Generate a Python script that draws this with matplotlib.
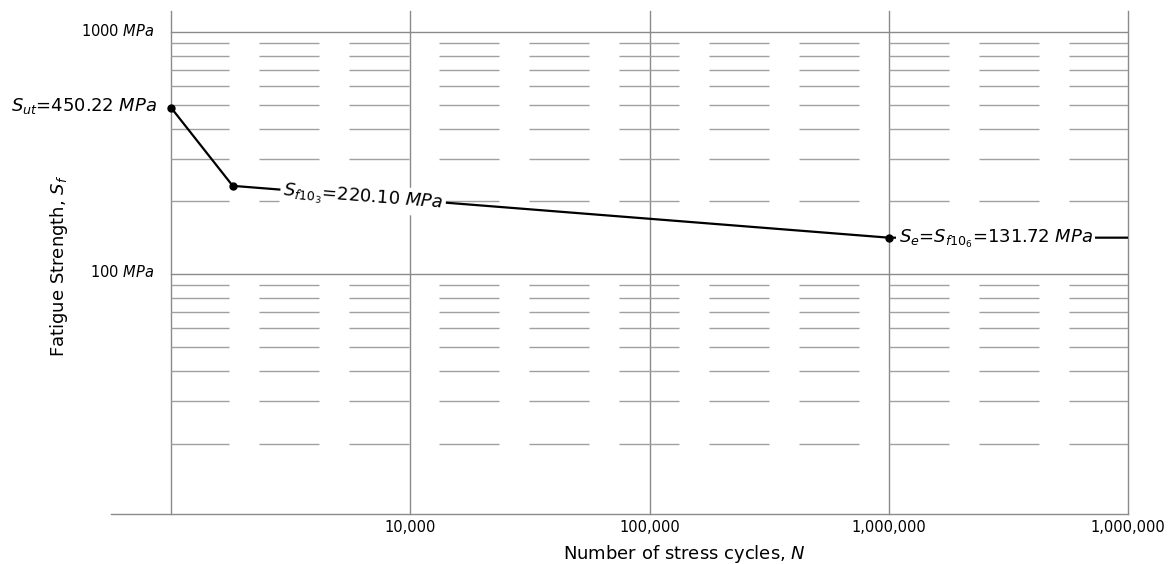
import matplotlib
matplotlib.use('Agg')
import matplotlib.pyplot as plt

plt.rcParams['font.family'] = ['DejaVu Sans']
plt.rcParams['mathtext.fontset'] = 'dejavusans'
plt.rcParams['lines.scale_dashes'] = False

# S-N curve points
cycles = [1e3, 1.81e3, 1e6, 1e7]
strength = [488, 232, 141.7, 141.7]
point_labels = [r'$S_{ut}$=450.22 $\mathit{MPa}$',
                r'$S_{f10_3}$=220.10 $\mathit{MPa}$',
                r'$S_e$=$S_{f10_6}$=131.72 $\mathit{MPa}$']

# grid / ticks
decades_x = [1e3, 1e4, 1e5, 1e6, 1e7]
xtick_vals = [1e4, 1e5, 1e6, 1e7]
xtick_labels = ['10,000', '100,000', '1,000,000', '1,000,000']
decades_y = [100, 1000]
ytick_labels = ['100 $\\mathit{MPa}$', '1000 $\\mathit{MPa}$']
minor_y = [20, 30, 40, 50, 60, 70, 80, 90, 200, 300, 400, 500, 600, 700, 800, 900]

W, H = 1172, 564
fig = plt.figure(figsize=(W / 100, H / 100), dpi=100)
ax = fig.add_axes([111 / W, (H - 514.3) / H, (1128 - 111) / W, (514.3 - 11) / H])
ax.set_xscale('log')
ax.set_yscale('log')
ax.set_xlim(561, 1e7)
ax.set_ylim(10.2, 1224)

for s in ['top', 'right', 'left']:
    ax.spines[s].set_visible(False)
ax.spines['bottom'].set_color('#8a8a8a')
ax.spines['bottom'].set_linewidth(1.0)

# vertical decade lines
for xv in decades_x:
    ax.axvline(xv, color='#8a8a8a', lw=1.0, zorder=1, clip_on=False)
# horizontal decade lines
for yv in decades_y:
    ax.plot([decades_x[0], decades_x[-1]], [yv, yv], color='#8a8a8a', lw=1.0, zorder=1)
# dashed minor lines
for yv in minor_y:
    ax.plot([decades_x[0], decades_x[-1]], [yv, yv], color='#a0a0a0', lw=1.0,
            linestyle=(1.44, (43.2, 21.6)), zorder=1)

# curve
ax.plot(cycles, strength, color='black', lw=1.6, marker='o', ms=5,
        markevery=[0, 1, 2], zorder=3)

# labels on the curve
ax.annotate(point_labels[0], xy=(cycles[0], strength[0]), xytext=(-14, -3.3),
            textcoords='offset pixels', ha='right', va='baseline', fontsize=13,
            annotation_clip=False)
ax.annotate(point_labels[1], xy=(cycles[1], strength[1]), xytext=(50, -9.6),
            textcoords='offset pixels', ha='left', va='baseline', fontsize=13,
            rotation=-4.5, rotation_mode='anchor', zorder=4,
            bbox=dict(boxstyle='square,pad=0.15', fc='white', ec='none'))
ax.annotate(point_labels[2], xy=(cycles[2], strength[2]), xytext=(10, -5.6),
            textcoords='offset pixels', ha='left', va='baseline', fontsize=13,
            zorder=4, bbox=dict(boxstyle='square,pad=0.15', fc='white', ec='none'))

# y "tick" labels next to the 10^3 line
for yv, lab, dy in zip(decades_y, ytick_labels, [-2.4, -3.4]):
    ax.annotate(lab, xy=(decades_x[0], yv), xytext=(-17, dy),
                textcoords='offset pixels', ha='right', va='baseline', fontsize=10.5,
                annotation_clip=False)

ax.set_xticks(xtick_vals, xtick_labels, fontsize=10.5)
ax.set_xticks([], minor=True)
ax.set_yticks([])
ax.set_yticks([], minor=True)
ax.tick_params(which='both', length=0, pad=4)

fig.text(59.5 / W, 1 - 266 / H, r'Fatigue Strength, $S_f$', rotation=90,
         ha='center', va='center', fontsize=13)
fig.text(684.5 / W, (H - 559.3) / H, r'Number of stress cycles, $N$',
         ha='center', va='baseline', fontsize=13)

fig.savefig('out.png', dpi=100)
